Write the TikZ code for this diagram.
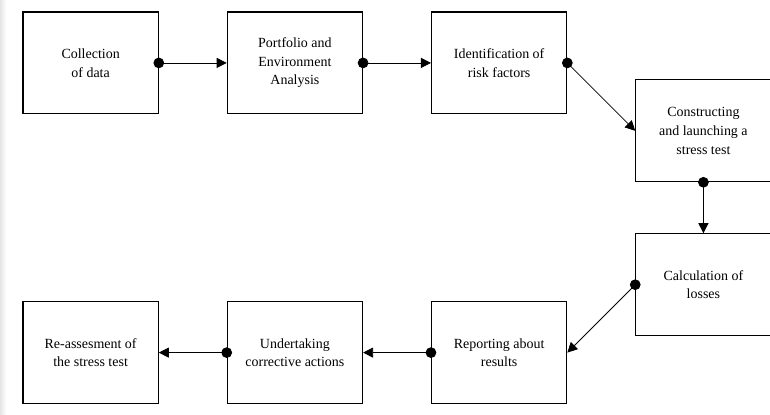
\documentclass[tikz,border=0pt]{standalone}
\usepackage{fontspec}
\setmainfont{Liberation Serif}
\usetikzlibrary{positioning, arrows.meta}

\begin{document}
\begin{tikzpicture}[auto,
node distance=51pt,
box/.style={
  rectangle, draw, line width=0.8pt,
  minimum width=101.6pt, minimum height=76.5pt,
  align=center, inner sep=2pt,
  font=\fontsize{10.5}{14}\selectfont
},
link/.style={
  {Circle[length=8pt]}-{Triangle[length=7.5pt,width=7.5pt]},
  line width=0.6pt, shorten <=-4pt
}]
\useasboundingbox (-68.06pt,47.25pt) rectangle (510.2pt,-264pt);
\shade[left color=black!10, right color=white] (-68.06pt,47.25pt) rectangle (-63.5pt,-264pt);
% upper row
\node (collect) [box] at (0,0) {Collection\\of data};
\node (portfolio) [box, right=of collect] {Portfolio and\\Environment\\Analysis};
\node (risk) [box, right=of portfolio] {Identification of\\risk factors};
\node (stress) [box, right=of risk, yshift=-51pt] {Constructing\\and launching a\\stress test};
\node (losses) [box, below=38.25pt of stress] {Calculation of\\losses};
% lower row
\node (report) [box, left=of losses, yshift=-51pt] {Reporting about\\results};
\node (actions) [box, left=of report] {Undertaking\\corrective actions};
\node (reassess) [box, left=of actions] {Re-assesment of\\the stress test};
\draw[link] (collect) -- (portfolio);
\draw[link] (portfolio) -- (risk);
\draw[link] (risk.east) -- (stress.west);
\draw[link] (stress) -- (losses);
\draw[link] (losses.west) -- (report.east);
\draw[link] (report) -- (actions);
\draw[link] (actions) -- (reassess);
\end{tikzpicture}
\end{document}
